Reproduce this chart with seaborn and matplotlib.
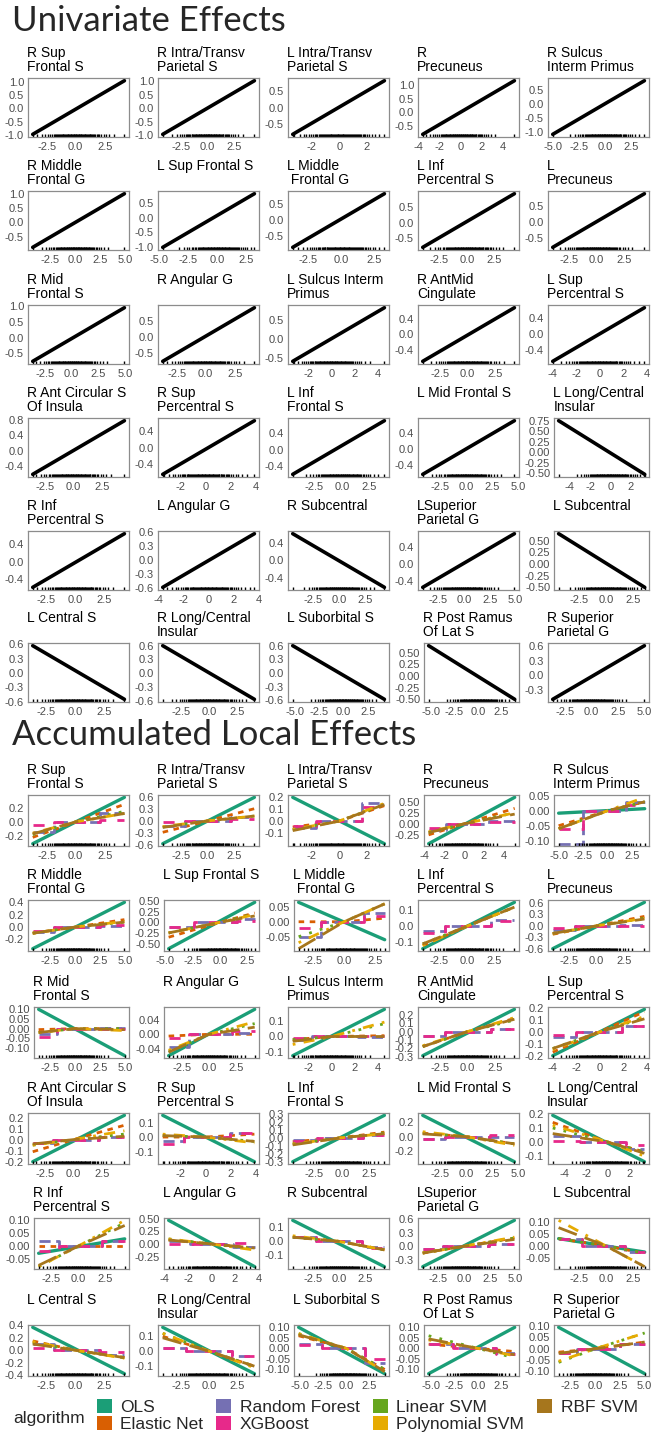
# Univariate effects vs accumulated local effects, 30 brain features
import matplotlib
matplotlib.use("Agg")
import matplotlib.pyplot as plt
from matplotlib.patches import Patch
import seaborn as sns

# ---- data ----
features = [
    "R Sup\nFrontal S", "R Intra/Transv\nParietal S", "L Intra/Transv\nParietal S", "R\nPrecuneus", "R Sulcus\nInterm Primus",
    "R Middle\nFrontal G", "L Sup Frontal S", "L Middle\n Frontal G", "L Inf\nPercentral S", "L\nPrecuneus",
    "R Mid\nFrontal S", "R Angular G", "L Sulcus Interm\nPrimus", "R AntMid\nCingulate", "L Sup\nPercentral S",
    "R Ant Circular S\nOf Insula", "R Sup\nPercentral S", "L Inf\nFrontal S", "L Mid Frontal S", "L Long/Central\nInsular",
    "R Inf\nPercentral S", "L Angular G", "R Subcentral", "LSuperior\nParietal G", "L Subcentral",
    "L Central S", "R Long/Central\nInsular", "L Suborbital S", "R Post Ramus\nOf Lat S", "R Superior\nParietal G",
]

# observed feature range (standardised units)
x_range = [(-3.7, 4.2), (-4.2, 4.4), (-3.4, 3.3), (-3.6, 5.1), (-5.0, 3.8),
           (-4.2, 4.9), (-4.7, 3.2), (-3.7, 3.3), (-4.0, 4.3), (-4.0, 4.4),
           (-3.6, 4.9), (-3.7, 4.2), (-3.4, 4.6), (-4.1, 4.3), (-4.0, 3.8),
           (-3.6, 4.5), (-3.4, 3.9), (-4.5, 3.9), (-4.2, 4.6), (-5.1, 3.4),
           (-3.7, 4.3), (-3.66, 3.68), (-4.4, 4.3), (-4.0, 4.9), (-4.4, 3.6),
           (-3.7, 4.3), (-4.1, 4.0), (-5.2, 4.2), (-5.2, 3.9), (-3.7, 5.0)]

x_ticks = [
    ["-2.5", "0.0", "2.5"], ["-2.5", "0.0", "2.5"], ["-2", "0", "2"], ["-4", "-2", "0", "2", "4"], ["-5.0", "-2.5", "0.0", "2.5"],
    ["-2.5", "0.0", "2.5", "5.0"], ["-5.0", "-2.5", "0.0", "2.5"], ["-2.5", "0.0", "2.5"], ["-2.5", "0.0", "2.5"], ["-2.5", "0.0", "2.5"],
    ["-2.5", "0.0", "2.5", "5.0"], ["-2.5", "0.0", "2.5"], ["-2", "0", "2", "4"], ["-2.5", "0.0", "2.5"], ["-4", "-2", "0", "2", "4"],
    ["-2.5", "0.0", "2.5"], ["-2", "0", "2", "4"], ["-2.5", "0.0", "2.5"], ["-2.5", "0.0", "2.5", "5.0"], ["-4", "-2", "0", "2"],
    ["-2.5", "0.0", "2.5"], ["-4", "-2", "0", "2", "4"], ["-2.5", "0.0", "2.5"], ["-2.5", "0.0", "2.5", "5.0"], ["-2.5", "0.0", "2.5"],
    ["-2.5", "0.0", "2.5"], ["-2.5", "0.0", "2.5"], ["-5.0", "-2.5", "0.0", "2.5"], ["-5.0", "-2.5", "0.0", "2.5"], ["-2.5", "0.0", "2.5", "5.0"],
]

# univariate effect: value at the low and high end of the feature range
uni_effect = [(-0.98, 1.05), (-0.97, 1.02), (-0.8, 0.8), (-0.8, 1.15), (-1.1, 0.82),
              (-0.88, 1.02), (-1.0, 0.8), (-0.85, 0.83), (-0.78, 0.92), (-0.78, 0.9),
              (-0.75, 0.95), (-0.74, 0.9), (-0.6, 0.84), (-0.7, 0.7), (-0.67, 0.65),
              (-0.6, 0.77), (-0.65, 0.65), (-0.6, 0.7), (-0.65, 0.72), (0.75, -0.52),
              (-0.6, 0.65), (-0.58, 0.57), (0.6, -0.6), (-0.55, 0.7), (0.65, -0.5),
              (0.57, -0.55), (0.6, -0.57), (0.6, -0.58), (0.65, -0.5), (-0.48, 0.6)]

uni_y_ticks = [
    ["-1.0", "-0.5", "0.0", "0.5", "1.0"], ["-1.0", "-0.5", "0.0", "0.5", "1.0"], ["-0.5", "0.0", "0.5"],
    ["-0.5", "0.0", "0.5", "1.0"], ["-1.0", "-0.5", "0.0", "0.5"],
    ["-0.5", "0.0", "0.5", "1.0"], ["-1.0", "-0.5", "0.0", "0.5"], ["-0.5", "0.0", "0.5"],
    ["-0.5", "0.0", "0.5"], ["-0.5", "0.0", "0.5"],
    ["-0.5", "0.0", "0.5", "1.0"], ["-0.5", "0.0", "0.5"], ["-0.5", "0.0", "0.5"],
    ["-0.4", "0.0", "0.4"], ["-0.4", "0.0", "0.4"],
    ["-0.4", "0.0", "0.4", "0.8"], ["-0.4", "0.0", "0.4"], ["-0.4", "0.0", "0.4"],
    ["-0.4", "0.0", "0.4"], ["-0.50", "-0.25", "0.00", "0.25", "0.50", "0.75"],
    ["-0.4", "0.0", "0.4"], ["-0.6", "-0.3", "0.0", "0.3", "0.6"], ["-0.4", "0.0", "0.4"],
    ["-0.4", "0.0", "0.4"], ["-0.50", "-0.25", "0.00", "0.25", "0.50"],
    ["-0.6", "-0.3", "0.0", "0.3", "0.6"], ["-0.6", "-0.3", "0.0", "0.3", "0.6"], ["-0.6", "-0.3", "0.0", "0.3", "0.6"],
    ["-0.50", "-0.25", "0.00", "0.25", "0.50"], ["-0.3", "0.0", "0.3", "0.6"],
]

algorithms = ["OLS", "Elastic Net", "Random Forest", "XGBoost", "Linear SVM", "Polynomial SVM", "RBF SVM"]

# ALE at the low / high end of each feature (curves are centred, ~0 at x = 0)
ale_ols = [(-0.31, 0.35), (-0.56, 0.58), (0.2, -0.19), (-0.45, 0.6), (-0.008, 0.007),
           (-0.35, 0.4), (-0.62, 0.47), (0.065, -0.06), (-0.14, 0.15), (-0.6, 0.62),
           (0.1, -0.14), (-0.06, 0.07), (-0.12, 0.17), (-0.29, 0.27), (-0.2, 0.19),
           (-0.2, 0.22), (0.15, -0.17), (-0.3, 0.28), (0.3, -0.35), (0.19, -0.14),
           (-0.028, 0.028), (0.47, -0.45), (0.15, -0.18), (-0.45, 0.57), (0.03, -0.025),
           (0.37, -0.38), (0.16, -0.15), (0.1, -0.12), (-0.12, 0.1), (0.095, -0.11)]
ale_enet = [(-0.22, 0.25), (-0.28, 0.3), (-0.05, 0.13), (-0.25, 0.35), (-0.05, 0.03),
            (-0.1, 0.12), (-0.35, 0.22), (0.0, 0.012), (-0.12, 0.12), (-0.22, 0.25),
            (-0.005, 0.0), (-0.005, 0.0), (-0.02, 0.005), (-0.18, 0.16), (-0.17, 0.17),
            (-0.11, 0.13), (0.0, 0.02), (-0.05, 0.07), (0.05, -0.1), (0.14, -0.07),
            (0.0, 0.0), (0.08, -0.08), (0.03, -0.06), (-0.15, 0.18), (0.03, -0.03),
            (0.15, -0.12), (0.1, -0.1), (0.06, -0.1), (0.02, -0.015), (-0.015, 0.03)]
ale_rf = [(-0.15, 0.13), (-0.12, 0.1), (-0.06, 0.15), (-0.15, 0.07), (-0.11, 0.03),
          (-0.08, 0.02), (-0.1, 0.08), (-0.05, 0.03), (-0.03, 0.04), (-0.12, 0.02),
          (-0.03, 0.005), (-0.035, 0.005), (-0.02, -0.005), (-0.05, 0.03), (-0.04, 0.05),
          (-0.03, 0.02), (-0.03, 0.03), (-0.03, 0.03), (-0.03, 0.0), (0.04, -0.05),
          (0.02, 0.02), (0.05, -0.05), (0.03, -0.04), (-0.05, 0.05), (0.03, -0.025),
          (0.1, -0.08), (0.02, -0.03), (0.02, -0.07), (0.02, -0.02), (-0.02, 0.02)]
ale_xgb = [(-0.05, 0.03), (-0.02, 0.05), (-0.04, 0.12), (-0.1, 0.05), (-0.06, 0.02),
           (-0.06, 0.03), (-0.1, 0.02), (-0.02, 0.02), (-0.04, 0.035), (-0.05, 0.0),
           (-0.045, 0.0), (-0.01, 0.008), (-0.01, 0.0), (-0.05, 0.03), (-0.03, 0.05),
           (-0.03, 0.02), (-0.05, 0.03), (-0.04, 0.04), (-0.03, 0.02), (0.01, -0.02),
           (-0.02, 0.02), (0.0, 0.02), (0.03, -0.05), (-0.05, 0.04), (0.03, -0.025),
           (0.03, -0.03), (0.02, -0.03), (0.015, -0.05), (0.02, -0.025), (-0.02, 0.02)]
ale_lsvm = [(-0.18, 0.15), (-0.15, 0.12), (-0.07, 0.14), (-0.2, 0.25), (-0.06, 0.03),
            (-0.1, 0.08), (-0.25, 0.2), (-0.05, 0.06), (-0.11, 0.12), (-0.2, 0.2),
            (-0.02, 0.0), (-0.05, 0.03), (-0.02, 0.08), (-0.18, 0.14), (-0.14, 0.12),
            (-0.05, 0.05), (0.01, -0.03), (-0.08, 0.06), (0.05, -0.1), (0.1, -0.07),
            (-0.08, 0.09), (0.1, -0.1), (0.03, -0.06), (-0.15, 0.18), (0.03, -0.03),
            (0.12, -0.12), (0.12, -0.1), (0.07, -0.1), (0.06, -0.045), (-0.06, 0.07)]
ale_psvm = [(-0.16, 0.12), (-0.14, 0.12), (-0.07, 0.15), (-0.18, 0.25), (-0.06, 0.045),
            (-0.1, 0.09), (-0.25, 0.18), (-0.07, 0.06), (-0.12, 0.12), (-0.2, 0.2),
            (-0.02, -0.01), (-0.045, 0.035), (-0.05, 0.09), (-0.17, 0.17), (-0.15, 0.13),
            (-0.05, 0.08), (0.02, -0.04), (-0.08, 0.05), (0.07, -0.12), (0.12, -0.1),
            (-0.08, 0.1), (0.1, -0.12), (0.04, -0.06), (-0.15, 0.2), (0.105, -0.085),
            (0.14, -0.13), (0.12, -0.11), (0.07, -0.11), (0.04, -0.035), (-0.055, 0.07)]
ale_rbf = [(-0.17, 0.12), (-0.16, 0.12), (-0.08, 0.14), (-0.2, 0.22), (-0.06, 0.03),
           (-0.1, 0.08), (-0.25, 0.15), (-0.09, 0.06), (-0.11, 0.12), (-0.2, 0.18),
           (-0.02, -0.005), (-0.05, 0.02), (-0.03, 0.0), (-0.18, 0.15), (-0.14, 0.11),
           (-0.04, 0.03), (0.01, -0.03), (-0.09, 0.05), (0.04, -0.1), (0.06, -0.08),
           (-0.075, 0.08), (0.08, -0.08), (0.03, -0.06), (-0.15, 0.15), (0.075, -0.085),
           (0.1, -0.12), (0.09, -0.1), (0.065, -0.11), (0.045, -0.03), (-0.02, 0.03)]

ale_y_ticks = [
    ["-0.2", "0.0", "0.2"], ["-0.6", "-0.3", "0.0", "0.3", "0.6"], ["-0.1", "0.0", "0.1", "0.2"],
    ["-0.25", "0.00", "0.25", "0.50"], ["-0.10", "-0.05", "0.00", "0.05"],
    ["-0.2", "0.0", "0.2", "0.4"], ["-0.50", "-0.25", "0.00", "0.25", "0.50"], ["-0.05", "0.00", "0.05"],
    ["-0.1", "0.0", "0.1"], ["-0.6", "-0.3", "0.0", "0.3", "0.6"],
    ["-0.10", "-0.05", "0.00", "0.05", "0.10"], ["-0.04", "0.00", "0.04"], ["-0.1", "0.0", "0.1"],
    ["-0.3", "-0.2", "-0.1", "0.0", "0.1", "0.2"], ["-0.2", "-0.1", "0.0", "0.1", "0.2"],
    ["-0.2", "-0.1", "0.0", "0.1", "0.2"], ["-0.1", "0.0", "0.1"],
    ["-0.3", "-0.2", "-0.1", "0.0", "0.1", "0.2", "0.3"], ["-0.2", "0.0", "0.2"], ["-0.1", "0.0", "0.1", "0.2"],
    ["-0.05", "0.00", "0.05", "0.10"], ["-0.25", "0.00", "0.25", "0.50"], ["-0.1", "0.0", "0.1"],
    ["-0.3", "0.0", "0.3", "0.6"], ["-0.05", "0.00", "0.05", "0.10"],
    ["-0.4", "-0.2", "0.0", "0.2", "0.4"], ["-0.1", "0.0", "0.1"], ["-0.10", "-0.05", "0.00", "0.05", "0.10"],
    ["-0.10", "-0.05", "0.00", "0.05", "0.10"], ["-0.10", "-0.05", "0.00", "0.05", "0.10"],
]

# rug of observed feature values (z units)
rug_z = [-3.3, -2.9, -2.6, -2.4, -2.2, -2.05, -1.9, -1.8, -1.7, -1.6, -1.5, -1.42, -1.35, -1.27,
         -1.2, -1.12, -1.05, -0.98, -0.9, -0.84, -0.77, -0.7, -0.63, -0.57, -0.5, -0.44, -0.37,
         -0.31, -0.25, -0.18, -0.12, -0.06, 0.0, 0.06, 0.12, 0.18, 0.25, 0.31, 0.37, 0.44, 0.5,
         0.57, 0.63, 0.7, 0.77, 0.84, 0.9, 0.98, 1.05, 1.12, 1.2, 1.27, 1.35, 1.42, 1.5, 1.6,
         1.7, 1.8, 1.9, 2.05, 2.2, 2.4, 2.6, 2.9, 3.3]

ale_curves = dict(zip(algorithms, [ale_ols, ale_enet, ale_rf, ale_xgb, ale_lsvm, ale_psvm, ale_rbf]))

# ---- styling ----
sns.set_style("white")
plt.rcParams["font.family"] = ["Liberation Sans", "DejaVu Sans"]

palette = dict(zip(algorithms, sns.color_palette("Dark2", 7)))
line_styles = {
    "OLS": "-",
    "Elastic Net": (0, (2, 2)),
    "Random Forest": (0, (4, 2)),
    "XGBoost": (0, (4, 4)),
    "Linear SVM": (0, (1, 3)),
    "Polynomial SVM": (0, (1, 3, 4, 3)),
    "RBF SVM": (0, (7, 3)),
}
step_algos = ["Random Forest", "XGBoost"]

W, H = 655, 1437
fig = plt.figure(figsize=(W / 100, H / 100), dpi=100)

uni_tops = [78, 191, 305, 418, 531, 643]
uni_height = 59
ale_tops = [795, 900, 1007, 1113, 1218, 1325]
ale_height = 51

TICK_PT = 8
char_em = {"-": 0.333, ".": 0.278}


def label_px(s):
    # rough width of a tick label in pixels (Arial metrics)
    return sum(char_em.get(c, 0.556) for c in s) * TICK_PT * 100 / 72


def add_panel(i, tops, height, yticks):
    row, col = divmod(i, 5)
    left = col * 130 + 9 + max(label_px(t) for t in yticks)
    right = col * 130 + 129
    top = tops[row]
    ax = fig.add_axes([left / W, 1 - (top + height) / H, (right - left) / W, height / H])
    fig.text((left - 1) / W, 1 - (top - 32) / H, features[i], ha="left", va="top",
             fontsize=10, color="black", linespacing=1.0)
    return ax


def finish_panel(ax, i, ymin, ymax, yticks):
    xlo, xhi = x_range[i]
    xpad = 0.05 * (xhi - xlo)
    ypad = 0.05 * (ymax - ymin)
    xlim = (xlo - xpad, xhi + xpad)
    ylim = (ymin - ypad, ymax + ypad)

    rug = [xlo] + [z for z in rug_z if xlo < z < xhi] + [xhi]
    sns.rugplot(x=rug, ax=ax, height=0.05, color="black", lw=0.7, expand_margins=False)

    xt = [t for t in x_ticks[i] if xlim[0] <= float(t) <= xlim[1]]
    yt = [t for t in yticks if ylim[0] <= float(t) <= ylim[1]]
    ax.set_xticks([float(t) for t in xt])
    ax.set_xticklabels(xt)
    ax.set_yticks([float(t) for t in yt])
    ax.set_yticklabels(yt)
    ax.set_xlim(xlim)
    ax.set_ylim(ylim)
    ax.set_xlabel("")
    ax.set_ylabel("")
    ax.tick_params(axis="both", labelsize=TICK_PT, labelcolor="#4D4D4D", color="#4D4D4D",
                   length=2, width=0.6, direction="out")
    ax.tick_params(axis="x", pad=1.5)
    ax.tick_params(axis="y", pad=1)
    for s in ax.spines.values():
        s.set_color("#8C8C8C")
        s.set_linewidth(0.9)


# ---- univariate effects ----
fig.text(12 / W, 1 - 5 / H, "Univariate Effects", family=["Lato", "DejaVu Sans"],
         fontsize=25, ha="left", va="top")
for i in range(30):
    ax = add_panel(i, uni_tops, uni_height, uni_y_ticks[i])
    y0, y1 = uni_effect[i]
    sns.lineplot(x=list(x_range[i]), y=[y0, y1], color="black", lw=2.6, ax=ax,
                 estimator=None, sort=False)
    finish_panel(ax, i, min(y0, y1), max(y0, y1), uni_y_ticks[i])

# ---- accumulated local effects ----
fig.text(12 / W, 1 - 719 / H, "Accumulated Local Effects", family=["Lato", "DejaVu Sans"],
         fontsize=25, ha="left", va="top")
for i in range(30):
    ax = add_panel(i, ale_tops, ale_height, ale_y_ticks[i])
    xlo, xhi = x_range[i]
    all_y = []
    for algo in algorithms:
        lo, hi = ale_curves[algo][i]
        if algo == "OLS":
            xs, ys = [xlo, xhi], [lo, hi]
        else:
            xs, ys = [xlo, 0.0, xhi], [lo, 0.0, hi]
        all_y += ys
        sns.lineplot(x=xs, y=ys, color=palette[algo], linestyle=line_styles[algo],
                     lw=2.4 if algo == "OLS" else 2.0, ax=ax, estimator=None, sort=False,
                     drawstyle="steps-mid" if algo in step_algos else "default")
    finish_panel(ax, i, min(all_y), max(all_y), ale_y_ticks[i])

# ---- legend ----
fig.text(13 / W, 1 - 1419 / H, "algorithm", fontsize=12.5, ha="left", va="center")
handles = [Patch(facecolor=palette[a], edgecolor="none", label=a) for a in algorithms]
fig.legend(handles=handles, loc="upper left", bbox_to_anchor=(97 / W, 1 - 1399 / H),
           ncol=4, frameon=False, fontsize=12.5, handlelength=0.85, handleheight=0.85,
           handletextpad=0.5, columnspacing=0.75, labelspacing=0.05,
           borderpad=0, borderaxespad=0)

fig.savefig("out.png", dpi=100)
